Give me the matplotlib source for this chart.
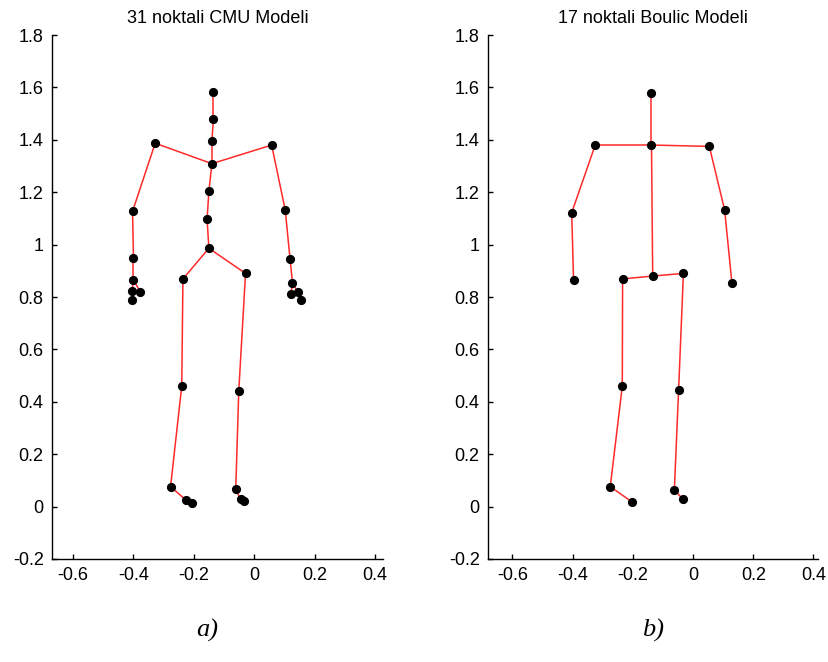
import matplotlib
matplotlib.use("Agg")
import matplotlib.pyplot as plt

# 31-joint CMU skeleton (x, y in metres)
cmu_x = [-0.150, -0.236, -0.240, -0.277, -0.226, -0.2055,
         -0.0285, -0.051, -0.061, -0.045, -0.033,
         -0.156, -0.150, -0.140, -0.140, -0.135, -0.135,
         -0.328, -0.403, -0.400, -0.400, -0.405, -0.404, -0.377,
         0.058, 0.103, 0.119, 0.127, 0.144, 0.156, 0.122]
cmu_y = [0.986, 0.869, 0.460, 0.076, 0.025, 0.013,
         0.890, 0.441, 0.066, 0.028, 0.023,
         1.097, 1.203, 1.309, 1.395, 1.481, 1.582,
         1.387, 1.127, 0.950, 0.865, 0.823, 0.788, 0.819,
         1.380, 1.132, 0.945, 0.855, 0.820, 0.789, 0.811]
cmu_edges = [(0, 1), (1, 2), (2, 3), (3, 4), (4, 5),
             (0, 6), (6, 7), (7, 8), (8, 9), (9, 10),
             (0, 11), (11, 12), (12, 13), (13, 14), (14, 15), (15, 16),
             (13, 17), (17, 18), (18, 19), (19, 20), (20, 21), (21, 22), (20, 23),
             (13, 24), (24, 25), (25, 26), (26, 27), (27, 28), (28, 29), (27, 30)]

# 17-joint Boulic skeleton
boulic_x = [-0.138, -0.138, -0.325, 0.054, -0.403, 0.105, -0.397, 0.129,
            -0.134, -0.234, -0.032, -0.235, -0.048, -0.275, -0.062, -0.204, -0.035]
boulic_y = [1.578, 1.380, 1.380, 1.375, 1.122, 1.132, 0.864, 0.855,
            0.880, 0.869, 0.890, 0.460, 0.444, 0.076, 0.065, 0.019, 0.029]
boulic_edges = [(0, 1), (1, 2), (1, 3), (2, 4), (4, 6), (3, 5), (5, 7),
                (1, 8), (8, 9), (8, 10), (9, 11), (11, 13), (13, 15),
                (10, 12), (12, 14), (14, 16)]

titles = ["31 noktali CMU Modeli", "17 noktali Boulic Modeli"]
captions = ["a)", "b)"]
x_ticks = [-0.6, -0.4, -0.2, 0, 0.2, 0.4]
x_tick_labels = ["-0.6", "-0.4", "-0.2", "0", "0.2", "0.4"]
y_ticks = [-0.2, 0, 0.2, 0.4, 0.6, 0.8, 1, 1.2, 1.4, 1.6, 1.8]
y_tick_labels = ["-0.2", "0", "0.2", "0.4", "0.6", "0.8", "1", "1.2", "1.4", "1.6", "1.8"]

plt.rcParams["font.family"] = ["Liberation Sans", "DejaVu Sans"]

fig = plt.figure(figsize=(8.29, 6.62), dpi=100)
fig.patch.set_facecolor("white")

panels = [
    ([0.0627, 0.1556, 0.3993, 0.7915], (-0.670, 0.427), cmu_x, cmu_y, cmu_edges),
    ([0.5887, 0.1556, 0.3980, 0.7915], (-0.681, 0.415), boulic_x, boulic_y, boulic_edges),
]

for i, (rect, xlim, xs, ys, edges) in enumerate(panels):
    ax = fig.add_axes(rect)
    for a, b in edges:
        ax.plot([xs[a], xs[b]], [ys[a], ys[b]], color="#ff2a2a", lw=1.1,
                solid_capstyle="butt", zorder=2)
    ax.plot(xs, ys, linestyle="none", marker="o", color="black",
            markersize=5.6, zorder=3)
    ax.set_xlim(*xlim)
    ax.set_ylim(-0.2, 1.8)
    ax.set_xticks(x_ticks)
    ax.set_xticklabels(x_tick_labels)
    ax.set_yticks(y_ticks)
    ax.set_yticklabels(y_tick_labels)
    for side in ("top", "right"):
        ax.spines[side].set_visible(False)
    for side in ("left", "bottom"):
        ax.spines[side].set_linewidth(1.0)
    ax.tick_params(direction="in", length=3.8, width=1.0, labelsize=13,
                   colors="black")
    ax.tick_params(axis="x", pad=6)
    ax.tick_params(axis="y", pad=6)
    ax.set_title(titles[i], fontsize=13, pad=9)
    cx = rect[0] + rect[2] / 2
    fig.text(cx - 0.012 if i == 0 else cx, 0.030, captions[i],
             family=["Liberation Serif", "DejaVu Serif"], style="italic",
             fontsize=19, ha="center", va="bottom")

fig.savefig("out.png", dpi=100)
